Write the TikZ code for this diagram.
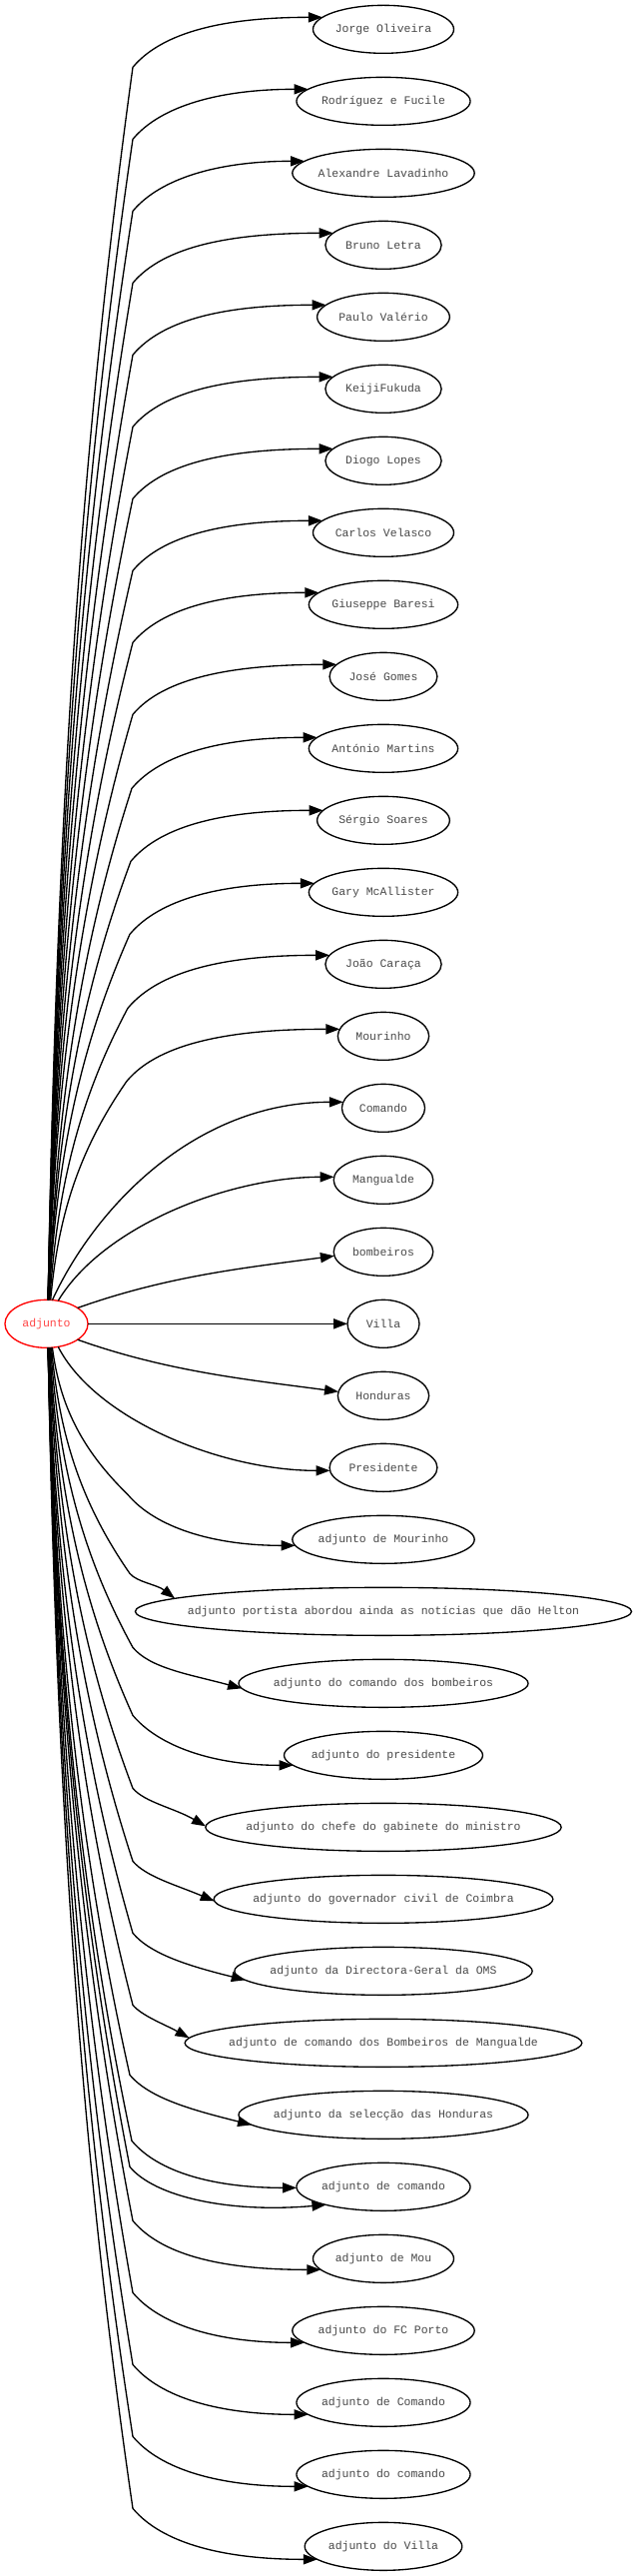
\documentclass[tikz,border=0pt]{standalone}
\usepackage{fontspec}
\setmonofont{Liberation Mono}
\usetikzlibrary{arrows.meta,shapes.geometric}
\definecolor{rootred}{RGB}{255,70,70}
\begin{document}
\begin{tikzpicture}[x=0.75pt,y=-0.75pt,
  nbase/.style={ellipse, line width=1pt, minimum height=36pt, inner sep=0pt, outer sep=0pt, font=\ttfamily\fontsize{8.6pt}{10pt}\selectfont},
  tnode/.style={nbase, draw=black, text=black!72},
  rootnode/.style={nbase, draw=red, text=rootred},
  nw/.style={minimum width={#1*0.75pt}},
  edge/.style={draw=black, line width=1pt, -{Triangle[length=10.5pt,width=7.6pt]}}]
\useasboundingbox (0,0) rectangle (637,2579);
\node[rootnode, nw=83.1] (a) at (46.5,1325.33) {\makebox[0pt]{adjunto}};
\foreach \i/\w/\lab in {
 0/141.0/Jorge Oliveira,
 1/174.1/Rodríguez e Fucile,
 2/182.4/Alexandre Lavadinho,
 3/116.2/Bruno Letra,
 4/132.7/Paulo Valério,
 5/116.2/KeijiFukuda,
 6/116.2/Diogo Lopes,
 7/141.0/Carlos Velasco,
 8/149.3/Giuseppe Baresi,
 9/107.9/José Gomes,
 10/149.3/António Martins,
 11/132.7/Sérgio Soares,
 12/149.3/Gary McAllister,
 13/116.2/João Caraça,
 14/91.3/Mourinho,
 15/83.1/Comando,
 16/99.6/Mangualde,
 17/99.6/bombeiros,
 18/72/Villa,
 19/91.3/Honduras,
 20/107.9/Presidente,
 21/182.4/adjunto de Mourinho,
 22/497.1/adjunto portista abordou ainda as notícias que dão Helton,
 23/290.1/adjunto do comando dos bombeiros,
 24/199.0/adjunto do presidente,
 25/356.3/adjunto do chefe do gabinete do ministro,
 26/339.7/adjunto do governador civil de Coimbra,
 27/298.3/adjunto da Directora-Geral da OMS,
 28/397.7/adjunto de comando dos Bombeiros de Mangualde,
 29/290.1/adjunto da selecção das Honduras,
 30/174.1/adjunto de comando,
 31/141.0/adjunto de Mou,
 32/182.4/adjunto do FC Porto,
 33/174.1/adjunto de Comando,
 34/174.1/adjunto do comando,
 35/157.6/adjunto do Villa}{
  \node[tnode, nw=\w] (t\i) at (384,{29.33+72*\i}) {\makebox[0pt]{\lab}};
}
% i / width / start angle / tip offset / arrival angle / kink x / kink offset
\foreach \i/\w/\sa/\dd/\tht/\kx/\ko in {
 0/141.0/86/-12/0/133/38, 1/174.1/86/-12/0/133/38, 2/182.4/86/-12/0/133/38,
 3/116.2/86/-12/0/133/38, 4/132.7/86/-12/0/133/38, 5/116.2/86/-12/0/133/38,
 6/116.2/86/-12/0/133/38, 7/141.0/86/-12/0/133/38, 8/149.3/86/-12/0/133/38,
 9/107.9/86/-12/0/133/38, 10/149.3/84/-11/0/132/40, 11/132.7/84/-10/0/131/41,
 12/149.3/84/-9/0/130/42, 13/116.2/82/-9/0/128/44, 14/91.3/80/-7/0/127/45,
 21/182.4/-76/6/0/128/45, 22/497.1/-78/-13/38/130/38, 23/290.1/-80/5/15/133/36,
 24/199.0/-82/10/0/133/40, 25/356.3/-83/-1/30/133/39, 26/339.7/-84/2/23/133/38,
 27/298.3/-86/9/14/133/38, 28/397.7/-86/-5/29/133/38, 29/290.1/-86/10/14/130/40,
 30/174.1/-86/1/0/132/46, 31/141.0/-86/11/0/133/38, 32/182.4/-86/12/0/133/38,
 33/174.1/-86/12/0/133/38, 34/174.1/-86/12/0/133/38, 35/157.6/-86/13/0/133/38}{
  \pgfmathsetmacro\ty{29.33+72*\i}
  \pgfmathsetmacro\sg{ifthenelse(\i<18,1,-1)}
  \pgfmathsetmacro\nsg{ifthenelse(\i<18,-1,1)}
  \pgfmathsetmacro\ky{\ty+\ko*\sg}
  \pgfmathsetmacro\sx{46.5+24.2*cos(\sa)}
  \pgfmathsetmacro\sy{1325.33-24*sin(\sa)}
  \pgfmathsetmacro\cx{\kx-\sx}
  \pgfmathsetmacro\cy{\ky-\sy}
  \pgfmathsetmacro\xo{\w/2*sqrt(1-(\dd/24)^2)}
  \pgfmathsetmacro\dx{384-\xo-\kx}
  \pgfmathsetmacro\hh{abs(\ty+\dd-\ky)}
  \pgfmathsetmacro\rr{min(0.25*\dx,0.75*\hh/sin(50))}
  \draw[edge] (a.\sa) .. controls +({0.1*\cx},{0.4*\cy}) and +({-0.6*\cx},{-0.3*\cy}) .. (\kx,\ky)
    .. controls +({\rr*cos(50)},{\nsg*\rr*sin(50)}) and +({-0.5*\dx*cos(\tht)},{-0.5*\dx*sin(\tht)}) .. ([shift={(-\xo,\dd)}]t\i.center);
}
\draw[edge] (a.east) -- (t18.west);
\draw[edge] (a.76) .. controls +(42,-91) and +(-150,0) .. ([shift={(-40.2,-6)}]t15.center);
\draw[edge] (a.63) .. controls +(45,-75) and +(-105,0) .. ([shift={(-49.4,-3)}]t16.center);
\draw[edge] (a.27) .. controls +(90,-32) and +(-90,12) .. ([shift={(-49.1,4)}]t17.center);
\draw[edge] (a.-27) .. controls +(90,32) and +(-90,-12) .. ([shift={(-45,-4)}]t19.center);
\draw[edge] (a.-63) .. controls +(37,72) and +(-110,0) .. ([shift={(-53.5,3)}]t20.center);
\draw[edge] (a.-86) .. controls +(8,328) and +(-48,-246) .. (130,2169.33)
  .. controls +(25,30) and +(-97.6,8.5) .. ([shift={(-57.5,18)}]t30.center);
\end{tikzpicture}
\end{document}
